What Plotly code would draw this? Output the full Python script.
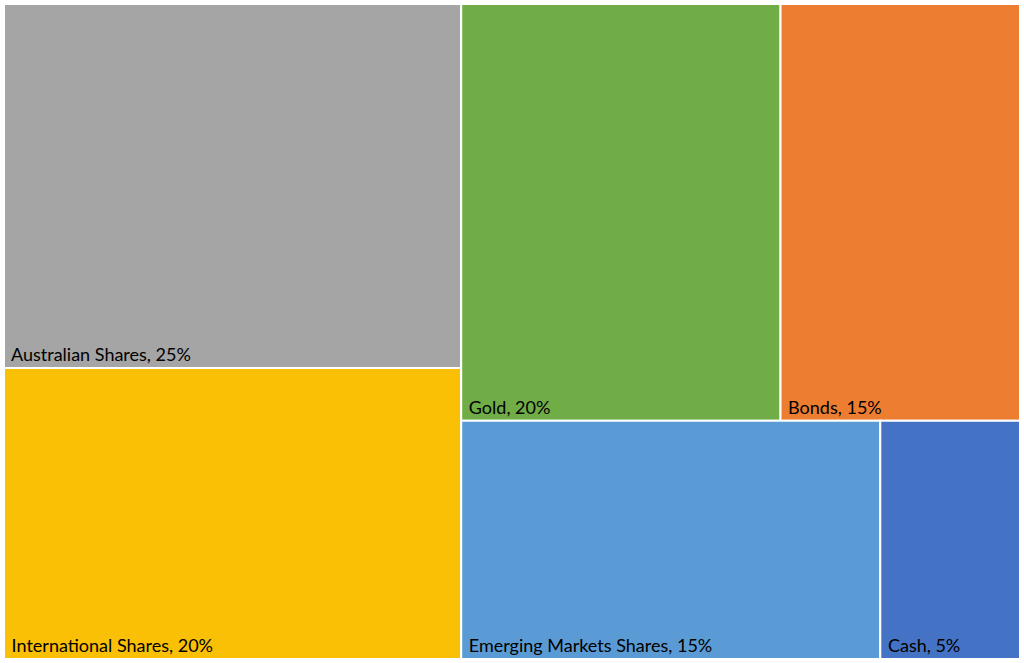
import plotly.graph_objects as go

labels = ["Australian Shares", "International Shares", "Gold", "Bonds",
          "Emerging Markets Shares", "Cash"]
values = [25, 20, 20, 15, 15, 5]
colors = ["#A5A5A5", "#FAC005", "#70AD47", "#ED7D31", "#5B9BD5", "#4472C4"]
parents = [""] * len(labels)

fig = go.Figure(go.Treemap(
    labels=labels,
    parents=parents,
    values=values,
    sort=True,
    marker=dict(colors=colors, line=dict(color="white", width=2),
                pad=dict(t=0, l=0, r=0, b=0)),
    texttemplate="\u00a0%{label}, %{value}%",
    textposition="bottom left",
    textfont=dict(family="Lato, Open Sans, sans-serif", size=18, color="black"),
    tiling=dict(packing="squarify", squarifyratio=1, pad=0),
    pathbar=dict(visible=False),
    hoverinfo="label+value",
))

fig.update_layout(
    width=1024, height=663,
    margin=dict(l=4, r=4, t=4, b=4),
    paper_bgcolor="white",
    uniformtext=dict(minsize=18),
)

fig.write_html("out.html",
               config={"displayModeBar": False},
               post_script="document.body.style.margin='0';document.body.style.overflow='hidden';")
